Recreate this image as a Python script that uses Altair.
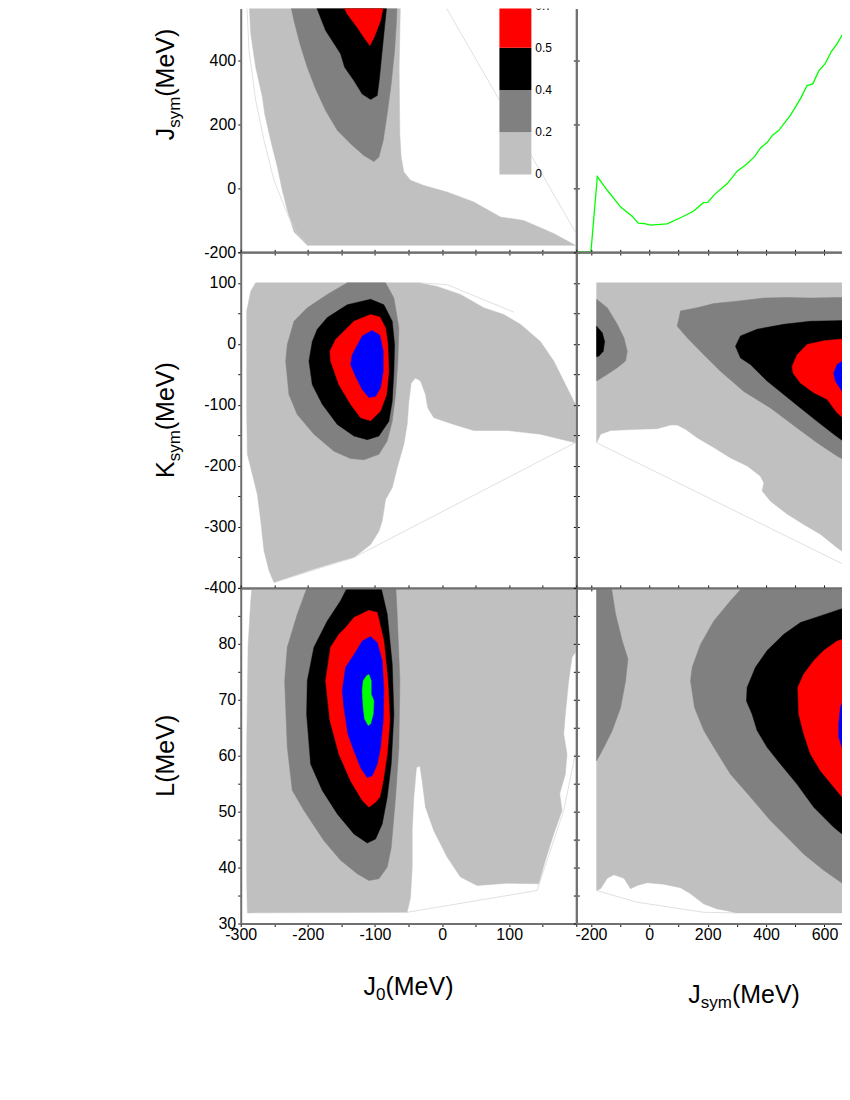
import altair as alt
import pandas as pd

FONT = "Liberation Sans"

# ---------------- axes -----------------
J0_DOMAIN = [-300, 200]
JSYM_X_DOMAIN = [-250, 660]
JSYM_Y_DOMAIN = [-200, 564]
KSYM_DOMAIN = [-400, 150]
L_DOMAIN = [30, 90]
PROB_DOMAIN = [0, 0.7253]

J0_TICKS = list(range(-300, 201, 50))
JSYM_X_TICKS = list(range(-200, 601, 100))
JSYM_Y_TICKS = [-200, 0, 200, 400]
KSYM_TICKS = list(range(-400, 151, 50))
L_TICKS = list(range(30, 91, 5))

J0_LABELS = "datum.value % 100 === 0 && datum.value < 200 ? '' + datum.value : ''"
JSYM_X_LABELS = "datum.value % 200 === 0 ? '' + datum.value : ''"
JSYM_Y_LABELS = "'' + datum.value"
KSYM_LABELS = "datum.value % 100 === 0 && datum.value <= 100 ? '' + datum.value : ''"
L_LABELS = "datum.value % 10 === 0 && datum.value < 90 ? '' + datum.value : ''"

# ---------------- contour levels -----------------
LEVELS = ["0-0.2", "0.2-0.4", "0.4-0.5", "0.5-0.7", "0.7-0.9", "0.9-1"]
LEVEL_COLORS = ["#c0c0c0", "#808080", "#000000", "#ff0000", "#0000ff", "#00ff00"]
LEGEND_LABELS = ["0", "0.2", "0.4", "0.5", "0.7"]

# ---- J0 (x) vs Jsym (y) ----
A_LIGHT = [(-287.6, 620), (-287.6, 589), (-285.1, 485), (-277.7, 380), (-267.7, 286), (-264.3, 234),
           (-255.3, 150), (-245.4, 67), (-238.0, -7), (-230.5, -69), (-220.6, -137), (-200.8, -179),
           (198.5, -179), (166.3, -142), (121.6, -101), (86.9, -90), (47.2, -43), (7.5, -12),
           (-27.2, 9), (-47.0, 25), (-57.0, 51), (-61.0, 98), (-63.0, 171), (-64.0, 380),
           (-62.0, 589), (-62.0, 620)]
A_GRAY = [(-227.1, 620), (-227.1, 589), (-220.6, 526), (-211.7, 453), (-200.8, 380), (-188.4, 312),
          (-173.5, 244), (-156.1, 182), (-136.3, 140), (-116.5, 103), (-101.6, 84), (-94.2, 98),
          (-87.7, 150), (-81.8, 234), (-75.8, 328), (-70.8, 432), (-67.9, 526), (-66.9, 589),
          (-66.9, 620)]
A_BLACK = [(-190.9, 620), (-190.9, 589), (-173.5, 495), (-151.2, 422), (-145.2, 380), (-131.4, 338),
           (-119.0, 296), (-106.5, 279), (-96.6, 291), (-93.7, 338), (-90.7, 401), (-86.7, 485),
           (-81.7, 589), (-81.7, 620)]
A_RED = [(-151.2, 620), (-151.2, 589), (-141.3, 547), (-126.4, 505), (-114.0, 466), (-107.5, 448),
         (-101.6, 472), (-91.7, 526), (-85.7, 589), (-85.7, 620)]
A_HULL = [[(0.1, 589), (198.5, -137)],
          [(-291.1, 589), (-287.6, 432), (-277.7, 276), (-265.3, 150), (-250.4, 25), (-230.5, -80),
           (-215.7, -142), (-200.8, -179)]]

# ---- Jsym marginal (green line) ----
B_JSYM = [-250, -200, -178, -144, -98, -58, -38, -19, 4, 61, 107, 152, 185, 200, 223, 267, 301,
          335, 361, 381, 404, 423, 443, 483, 518, 540, 560, 580, 603, 624, 643, 666, 686]
B_PROB = [0, 0, 0.225, 0.184, 0.134, 0.106, 0.086, 0.085, 0.080, 0.084, 0.102, 0.122, 0.147,
          0.148, 0.171, 0.204, 0.241, 0.263, 0.285, 0.310, 0.327, 0.349, 0.362, 0.407, 0.457,
          0.496, 0.501, 0.539, 0.562, 0.598, 0.620, 0.655, 0.682]

# ---- J0 (x) vs Ksym (y) ----
C_LIGHT = [(-277.7, 100), (-34.6, 100), (-7.3, 94), (27.4, 81), (62.1, 59), (91.9, 48), (116.7, 32),
           (146.4, 4), (166.3, -28), (181.2, -61), (198.5, -99), (198.5, -162), (146.4, -148),
           (96.8, -142), (47.2, -142), (17.5, -132), (-12.3, -121), (-21.2, -105), (-24.7, -83),
           (-32.1, -61), (-39.6, -56), (-46.0, -64), (-49.5, -94), (-52.0, -132), (-57.0, -165),
           (-66.9, -203), (-74.3, -236), (-84.2, -255), (-89.2, -290), (-94.1, -307),
           (-106.5, -329), (-131.3, -350), (-151.2, -356), (-190.9, -369), (-250.4, -391),
           (-257.8, -372), (-265.3, -339), (-270.2, -290), (-275.2, -247), (-282.6, -214),
           (-290.1, -181), (-291.1, -110), (-291.1, 54), (-285.1, 86)]
C_GRAY = [(-141.3, 100), (-84.2, 100), (-71.8, 75), (-64.4, 26), (-65.9, -28), (-69.3, -83),
          (-74.3, -127), (-81.7, -159), (-94.1, -181), (-116.5, -190), (-136.3, -188),
          (-161.1, -176), (-190.9, -148), (-215.7, -116), (-228.1, -83), (-233.0, -28),
          (-230.6, -1), (-220.6, 37), (-200.8, 59), (-171.0, 81)]
C_BLACK = [(-171.0, 43), (-141.3, 64), (-106.5, 73), (-86.7, 64), (-74.3, 37), (-70.8, -1),
           (-71.8, -45), (-74.3, -94), (-79.3, -127), (-94.1, -151), (-111.5, -157),
           (-131.3, -151), (-156.1, -132), (-178.5, -99), (-193.3, -67), (-198.3, -28),
           (-193.3, 4), (-185.9, 24)]
C_RED = [(-158.6, 7), (-131.3, 37), (-106.5, 48), (-92.7, 44), (-84.2, 26), (-80.8, -1),
         (-79.3, -45), (-82.7, -83), (-91.7, -110), (-106.5, -126), (-121.4, -121),
         (-136.3, -99), (-153.7, -67), (-166.1, -28), (-167.1, -12)]
C_BLUE = [(-133.8, -18), (-118.9, 13), (-104.1, 22), (-92.7, 14), (-87.7, -12), (-87.7, -45),
          (-91.7, -72), (-99.1, -86), (-109.0, -88), (-118.9, -75), (-128.9, -53), (-136.3, -34)]
C_HULL = [[(-250.4, -391), (-131.3, -350), (198.5, -162)],
          [(-34.6, 100), (7.5, 97), (106.8, 52)]]

# ---- Jsym (x) vs Ksym (y) ----
D_LIGHT = [(-180.5, 100), (720, 100), (720, -365), (688.8, -350), (643.1, -334), (586.1, -312),
           (529.1, -296), (472.0, -279), (415.0, -258), (386.5, -241), (392.2, -228),
           (380.8, -217), (335.1, -200), (278.1, -187), (221.0, -170), (164.0, -154),
           (124.0, -140), (95.6, -133), (72.7, -133), (27.1, -139), (-41.3, -140),
           (-132.6, -142), (-166.8, -148), (-180.5, -162)]
D_GRAY_LEFT = [(-180.5, 73), (-144.0, 59), (-109.8, 32), (-87.0, 10), (-75.6, -12), (-81.3, -28),
               (-109.8, -39), (-144.0, -50), (-180.5, -61)]
D_BLACK_LEFT = [(-180.5, 29), (-161.1, 18), (-153.1, 4), (-157.7, -12), (-172.5, -20), (-180.5, -21)]
D_GRAY = [(95.6, 29), (107.0, 54), (164.0, 59), (221.0, 66), (301.0, 70), (392.2, 75), (472.0, 76),
          (551.9, 75), (643.1, 76), (720, 76), (720, -200), (688.8, -195), (643.1, -184),
          (574.7, -162), (506.2, -138), (415.0, -105), (323.7, -78), (243.9, -45), (186.8, -18),
          (129.8, 10)]
D_BLACK = [(295.2, -4), (312.3, 13), (369.3, 24), (460.6, 32), (551.9, 37), (643.1, 38), (720, 40),
           (720, -170), (688.8, -168), (631.7, -148), (574.7, -127), (517.6, -105), (460.6, -83),
           (403.5, -61), (346.5, -34), (312.3, -23)]
D_RED = [(489.1, -37), (506.2, -18), (540.4, -1), (597.5, 5), (688.8, 9), (720, 9), (720, -135),
         (688.8, -132), (643.1, -113), (608.9, -91), (563.3, -80), (517.6, -64), (492.6, -48)]
D_BLUE = [(631.7, -48), (643.1, -34), (677.3, -23), (720, -21), (720, -96), (688.8, -94),
          (660.2, -78), (637.4, -61)]
D_HULL = [[(-180.5, -162), (688.8, -367)]]

# ---- J0 (x) vs L (y) ----
E_LIGHT = [(-282.6, 91), (198.5, 91), (198.5, 78.5), (193.6, 77.6), (188.6, 73.4), (183.6, 67.4),
           (181.2, 63.9), (186.1, 60.3), (183.6, 56.7), (175.2, 53.2), (178.7, 50.2), (166.3, 46.0),
           (153.9, 41.3), (144.0, 37.1), (96.8, 37.2), (52.2, 36.8), (27.4, 38.3), (7.5, 41.9),
           (-12.3, 46.6), (-24.7, 50.8), (-29.7, 55.5), (-33.1, 58.2), (-38.1, 57.9), (-42.1, 52.6),
           (-44.5, 46.6), (-44.5, 40.1), (-47.0, 34.7), (-52.0, 32.0), (-290.1, 31.9),
           (-291.1, 37.7), (-291.1, 61.5), (-289.1, 79.4), (-285.1, 87.7)]
E_GRAY = [(-198.3, 91), (-69.3, 91), (-66.9, 85.3), (-62.9, 73.4), (-64.4, 61.5), (-69.3, 52.6),
          (-75.8, 43.6), (-81.7, 40.1), (-94.1, 38.0), (-109.0, 37.7), (-126.4, 38.9),
          (-151.2, 41.3), (-176.0, 44.8), (-205.7, 50.2), (-223.1, 53.8), (-230.6, 61.5),
          (-234.5, 73.4), (-230.6, 79.4), (-215.7, 85.3)]
E_BLACK = [(-137.3, 91), (-92.7, 91), (-81.7, 85.3), (-74.3, 76.4), (-71.8, 67.4), (-75.8, 58.5),
           (-81.7, 52.6), (-89.2, 47.8), (-99.1, 45.1), (-111.5, 44.4), (-131.3, 46.0),
           (-156.1, 49.6), (-178.5, 53.8), (-195.8, 58.5), (-201.8, 67.4), (-200.8, 73.4),
           (-190.9, 79.4), (-171.0, 84.1), (-151.2, 87.7)]
E_RED = [(-153.7, 81.7), (-143.7, 82.9), (-131.3, 84.7), (-109.0, 86.0), (-96.6, 85.6), (-86.7, 80.5),
         (-80.7, 73.4), (-77.8, 66.3), (-81.7, 60.3), (-87.7, 55.5), (-92.7, 52.6), (-99.1, 51.7),
         (-109.0, 50.8), (-118.9, 52.0), (-136.3, 55.5), (-153.7, 60.3), (-167.1, 66.3),
         (-173.5, 73.4), (-166.1, 79.4)]
E_BLUE = [(-128.9, 78.5), (-118.9, 80.5), (-106.5, 81.3), (-96.6, 80.2), (-89.2, 77.0), (-86.7, 71.6),
          (-87.7, 66.3), (-91.7, 61.5), (-96.6, 58.5), (-104.1, 56.4), (-111.5, 56.1),
          (-121.4, 57.9), (-131.3, 60.9), (-140.3, 63.9), (-146.2, 68.6), (-148.7, 71.6),
          (-143.7, 75.8)]
E_GREEN = [(-112.5, 74.3), (-109.0, 74.5), (-105.6, 73.4), (-105.6, 71.0), (-101.6, 69.8),
           (-102.6, 67.4), (-106.5, 65.7), (-110.0, 65.4), (-115.5, 66.6), (-117.5, 68.6),
           (-119.0, 71.6), (-117.5, 73.4)]
E_HULL = [[(-52.0, 32.0), (141.5, 35.9), (181.2, 50.2), (198.5, 60.3)]]

# ---- Jsym (x) vs L (y) ----
F_LIGHT = [(-180.5, 91), (720, 91), (720, 31.9), (295.2, 31.9), (266.7, 32.3), (232.5, 32.6),
           (186.8, 33.5), (141.2, 35.3), (107.0, 36.4), (49.9, 37.0), (-7.1, 37.3), (-41.3, 36.8),
           (-64.2, 36.2), (-87.0, 38.1), (-121.2, 38.7), (-144.0, 38.1), (-166.8, 36.2),
           (-180.5, 35.9)]
F_GRAY_LEFT = [(-180.5, 91), (-132.6, 91), (-115.5, 85.3), (-92.7, 80.5), (-73.3, 77.3),
               (-81.3, 73.4), (-98.4, 68.6), (-126.9, 64.5), (-155.4, 61.5), (-180.5, 59.1)]
F_GRAY = [(335.1, 91), (720, 91), (720, 35), (688.8, 36.2), (597.5, 39.5), (529.1, 42.4),
          (472.0, 45.4), (415.0, 48.4), (346.5, 52.6), (278.1, 56.7), (221.0, 61.5), (186.8, 64.5),
          (154.9, 68.6), (141.2, 73.4), (146.9, 75.8), (175.4, 79.9), (221.0, 84.1), (278.1, 87.7)]
F_BLACK = [(720, 87), (688.8, 86.5), (654.5, 86.2), (586.1, 85.0), (517.6, 83.8), (460.6, 81.7),
           (403.5, 78.8), (363.6, 75.8), (335.1, 72.2), (332.8, 69.8), (352.2, 67.4), (369.3, 64.5),
           (403.5, 61.5), (449.2, 58.5), (506.2, 54.9), (563.3, 50.8), (631.7, 47.2),
           (688.8, 44.8), (720, 44)]
F_RED = [(720, 82), (688.8, 81.2), (643.1, 80.5), (597.5, 78.8), (563.3, 77.0), (529.1, 74.6),
         (508.5, 72.2), (512.0, 67.4), (529.1, 63.9), (551.9, 60.3), (586.1, 57.3), (631.7, 54.4),
         (688.8, 50.8), (720, 50)]
F_BLUE = [(720, 73), (688.8, 72.2), (671.7, 71.0), (654.5, 68.6), (648.8, 65.7), (648.8, 63.3),
          (660.2, 61.5), (677.3, 59.7), (688.8, 58.8), (720, 58)]
F_HULL = [[(-180.5, 35.9), (-41.3, 33.8), (186.8, 32.0), (295.2, 31.9)]]

# ---------------- layout sizes -----------------
COL1_W, COL2_W = 336, 266
ROW1_H, ROW_H = 243.7, 336

# Arial/Liberation Sans advance widths (em) for title composition
ADV = {'J': 0.5, 'K': 0.667, 'L': 0.556, 's': 0.5, 'y': 0.5, 'm': 0.833, '0': 0.556,
       '(': 0.333, 'M': 0.833, 'e': 0.556, 'V': 0.667, ')': 0.333}


def text_width(t, size):
    return sum(ADV[c] for c in t) * size


def poly_df(polys):
    rows = []
    for pid, pts in enumerate(polys):
        for i, (x, y) in enumerate(pts):
            rows.append({"x": x, "y": y, "poly": pid, "i": i})
    return pd.DataFrame(rows)


def sc(dom):
    return alt.Scale(domain=dom, nice=False, zero=False)


def contour_layers(level_polys, xdom, ydom):
    out = []
    for level, polys in level_polys:
        col = LEVEL_COLORS[level]
        out.append(
            alt.Chart(poly_df(polys)).mark_line(
                fill=col, stroke=col, strokeWidth=0.5, clip=True, interpolate="linear-closed"
            ).encode(
                x=alt.X("x:Q", scale=sc(xdom), axis=None),
                y=alt.Y("y:Q", scale=sc(ydom), axis=None),
                detail="poly:N",
                order="i:Q",
            )
        )
    return out


def hull_layer(lines, xdom, ydom):
    return alt.Chart(poly_df(lines)).mark_line(
        color="#d2d2d2", strokeWidth=0.7, clip=True
    ).encode(
        x=alt.X("x:Q", scale=sc(xdom), axis=None),
        y=alt.Y("y:Q", scale=sc(ydom), axis=None),
        detail="poly:N",
        order="i:Q",
    )


def make_axis(orient, values, label_expr):
    kw = dict(orient=orient, values=values, title=None, grid=False, zindex=2, labelFlush=False)
    if label_expr:
        kw["labelExpr"] = label_expr
        if orient == "bottom":
            kw["labelPadding"] = 0
    else:
        kw["labels"] = False
    return alt.Axis(**kw)


def axis_layers(xdom, ydom, xticks, yticks, sides, xlab, ylab):
    corner = pd.DataFrame({"x": [xdom[0]], "y": [ydom[0]]})
    out = []
    for xo, yo, xl, yl in (("bottom", "left", xlab, ylab), ("top", "right", None, None)):
        xa = make_axis(xo, xticks, xl) if xo in sides else None
        ya = make_axis(yo, yticks, yl) if yo in sides else None
        out.append(
            alt.Chart(corner).mark_point(opacity=0, size=0).encode(
                x=alt.X("x:Q", scale=sc(xdom), axis=xa),
                y=alt.Y("y:Q", scale=sc(ydom), axis=ya),
            )
        )
    return out


def title_pieces(pieces, center, base, vertical):
    total = sum(text_width(t, s) for t, s, _ in pieces)
    out = []
    pos = 0.0
    for t, s, shift in pieces:
        if vertical:
            px, py, ang = base + shift, center + total / 2 - pos, 270
        else:
            px, py, ang = center - total / 2 + pos, base + shift, 0
        out.append(
            alt.Chart(pd.DataFrame({"t": [t]})).mark_text(
                font=FONT, fontSize=s, angle=ang, align="left", baseline="alphabetic", color="black"
            ).encode(text="t:N", x=alt.value(px), y=alt.value(py))
        )
        pos += text_width(t, s)
    return out


def panel(level_polys, hulls, xdom, ydom, xticks, yticks, sides, xlab=None, ylab=None, titles=()):
    layers = contour_layers(level_polys, xdom, ydom)
    if hulls:
        layers.append(hull_layer(hulls, xdom, ydom))
    layers += axis_layers(xdom, ydom, xticks, yticks, sides, xlab, ylab)
    for tp in titles:
        layers += title_pieces(*tp)
    return alt.layer(*layers).resolve_axis(x="independent", y="independent")


YT_X = -67  # baseline of rotated y titles (relative to plot left)

# ---- Panel A: J0 vs Jsym with legend ----
A_inner = panel(
    [(0, [A_LIGHT]), (1, [A_GRAY]), (2, [A_BLACK]), (3, [A_RED])], A_HULL,
    J0_DOMAIN, JSYM_Y_DOMAIN, J0_TICKS, JSYM_Y_TICKS, {"bottom", "left", "right"},
    ylab=JSYM_Y_LABELS,
    titles=[([("J", 25, 0), ("sym", 17, 6), ("(MeV)", 25, 0)], 76, YT_X, True)],
)
leg_scale = alt.Scale(domain=[0, 5], range=[166, -45.3])
legend_df = pd.DataFrame({"lo": list(range(5)), "hi": list(range(1, 6)), "level": LEVELS[:5]})
legend_lab = pd.DataFrame({"pos": list(range(5)), "label": LEGEND_LABELS})
legend_bar = alt.Chart(legend_df).mark_rect(clip=True).encode(
    x=alt.value(259), x2=alt.value(291),
    y=alt.Y("lo:Q", scale=leg_scale, axis=None), y2="hi:Q",
    color=alt.Color("level:N", scale=alt.Scale(domain=LEVELS, range=LEVEL_COLORS), legend=None),
)
legend_txt = alt.Chart(legend_lab).mark_text(
    align="left", baseline="middle", font=FONT, fontSize=12, color="black", clip=True
).encode(x=alt.value(295), y=alt.Y("pos:Q", scale=leg_scale, axis=None), text="label:N")
A = alt.layer(A_inner, alt.layer(legend_bar, legend_txt)).resolve_scale(y="independent").properties(
    width=COL1_W, height=ROW1_H)

# ---- Panel B: Jsym marginal ----
B_inner = alt.layer(*axis_layers(JSYM_X_DOMAIN, JSYM_Y_DOMAIN, JSYM_X_TICKS, JSYM_Y_TICKS,
                                 {"bottom", "left"}, None, None)).resolve_axis(x="independent", y="independent")
B_line = alt.Chart(pd.DataFrame({"x": B_JSYM, "p": B_PROB, "i": list(range(len(B_JSYM)))})).mark_line(
    color="#00ff00", strokeWidth=1.3, clip=True
).encode(
    x=alt.X("x:Q", scale=sc(JSYM_X_DOMAIN), axis=None),
    y=alt.Y("p:Q", scale=sc(PROB_DOMAIN), axis=None),
    order="i:Q",
)
B = alt.layer(B_inner, B_line).resolve_scale(y="independent").properties(width=COL2_W, height=ROW1_H)

# ---- Panel C: J0 vs Ksym ----
C = panel(
    [(0, [C_LIGHT]), (1, [C_GRAY]), (2, [C_BLACK]), (3, [C_RED]), (4, [C_BLUE])], C_HULL,
    J0_DOMAIN, KSYM_DOMAIN, J0_TICKS, KSYM_TICKS, {"bottom", "left", "top", "right"},
    ylab=KSYM_LABELS,
    titles=[([("K", 25, 0), ("sym", 17, 6), ("(MeV)", 25, 0)], 168, YT_X, True)],
).properties(width=COL1_W, height=ROW_H)

# ---- Panel D: Jsym vs Ksym ----
D = panel(
    [(0, [D_LIGHT]), (1, [D_GRAY_LEFT, D_GRAY]), (2, [D_BLACK_LEFT, D_BLACK]), (3, [D_RED]), (4, [D_BLUE])],
    D_HULL, JSYM_X_DOMAIN, KSYM_DOMAIN, JSYM_X_TICKS, KSYM_TICKS, {"bottom", "left", "top"},
).properties(width=COL2_W, height=ROW_H)

# ---- Panel E: J0 vs L ----
E = panel(
    [(0, [E_LIGHT]), (1, [E_GRAY]), (2, [E_BLACK]), (3, [E_RED]), (4, [E_BLUE]), (5, [E_GREEN])], E_HULL,
    J0_DOMAIN, L_DOMAIN, J0_TICKS, L_TICKS, {"bottom", "left", "top", "right"},
    xlab=J0_LABELS, ylab=L_LABELS,
    titles=[([("L(MeV)", 25, 0)], 168, YT_X, True),
            ([("J", 25, 0), ("0", 17, 5), ("(MeV)", 25, 0)], 168, ROW_H + 72, False)],
).properties(width=COL1_W, height=ROW_H)

# ---- Panel F: Jsym vs L ----
F = panel(
    [(0, [F_LIGHT]), (1, [F_GRAY_LEFT, F_GRAY]), (2, [F_BLACK]), (3, [F_RED]), (4, [F_BLUE])], F_HULL,
    JSYM_X_DOMAIN, L_DOMAIN, JSYM_X_TICKS, L_TICKS, {"bottom", "left", "top"},
    xlab=JSYM_X_LABELS,
    titles=[([("J", 25, 0), ("sym", 17, 5), ("(MeV)", 25, 0)], 168, ROW_H + 80, False)],
).properties(width=COL2_W, height=ROW_H)

chart = alt.concat(
    A, B, C, D, E, F, columns=2, spacing=0, bounds="flush", align="each"
).properties(
    padding={"left": 145, "top": 0, "right": 0, "bottom": 10}
).configure_view(
    strokeWidth=0
).configure_axis(
    domainColor="#707070", domainWidth=2, tickColor="#111111", tickWidth=1, tickSize=3,
    labelFont=FONT, labelFontSize=16, labelColor="black",
)

chart.save("out.html", embed_options={"renderer": "svg", "actions": False})
